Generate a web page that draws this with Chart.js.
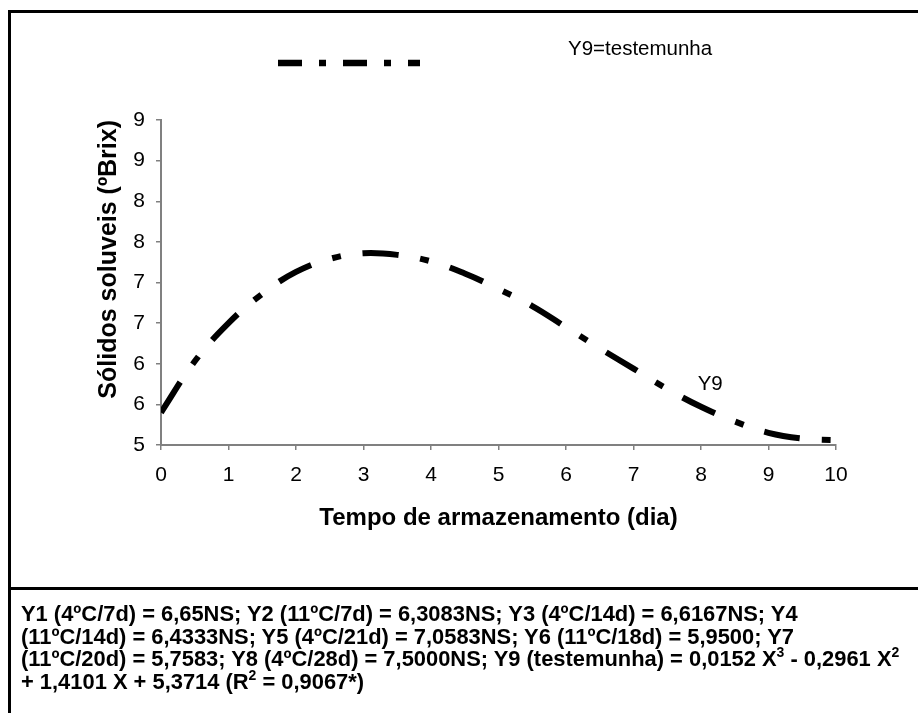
<!DOCTYPE html>
<html><head><meta charset="utf-8">
<script src="https://cdn.jsdelivr.net/npm/chart.js@4"></script>
<style>
html,body{margin:0;padding:0;background:#fff;}
#wrap{position:relative;width:918px;height:713px;overflow:hidden;background:#fff;}
#c{position:absolute;left:0;top:0;}
.bl{position:absolute;background:#000;}
#eq{position:absolute;left:21px;top:603px;font-family:"Liberation Sans",Arial,sans-serif;font-weight:bold;font-size:21.9px;line-height:22.5px;white-space:nowrap;color:#000;}
#eq sup{font-size:14px;position:relative;top:-9px;vertical-align:baseline;line-height:1;}
</style></head><body>
<div id="wrap">
<canvas id="c" width="918" height="713"></canvas>
<div class="bl" style="left:8px;top:10px;width:910px;height:3px"></div>
<div class="bl" style="left:8px;top:10px;width:3px;height:703px"></div>
<div class="bl" style="left:8px;top:587px;width:910px;height:3px"></div>
<div id="eq">Y1 (4ºC/7d) = 6,65NS; Y2 (11ºC/7d) = 6,3083NS; Y3 (4ºC/14d) = 6,6167NS; Y4<br>(11ºC/14d) = 6,4333NS; Y5 (4ºC/21d) = 7,0583NS; Y6 (11ºC/18d) = 5,9500; Y7<br>(11ºC/20d) = 5,7583; Y8 (4ºC/28d) = 7,5000NS; Y9 (testemunha) = 0,0152 X<sup>3</sup> - 0,2961 X<sup>2</sup><br>+ 1,4101 X + 5,3714 (R<sup>2</sup> = 0,9067*)</div>
</div>
<script>
// Data
const days = [0,0.5,1,1.5,2,2.5,3,3.5,4,4.5,5,5.5,6,6.5,7,7.5,8,8.5,9,9.5,10];
const y9 = [5.40,6.03,6.50,6.86,7.13,7.29,7.36,7.34,7.26,7.11,6.92,6.71,6.45,6.19,5.94,5.69,5.47,5.29,5.15,5.08,5.06];
const xTickLabels = ['0','1','2','3','4','5','6','7','8','9','10'];
const yTickLabels = ['5','6','6','7','7','8','8','9','9'];
const seriesName = 'Y9=testemunha';
const curveLabel = 'Y9';
const curveLabelPos = {x: 7.95, y: 5.68};

const FONT = '"Liberation Sans", Arial, sans-serif';

const overlay = {
  id: 'overlay',
  afterDraw(chart) {
    const ctx = chart.ctx;
    ctx.save();
    // legend sample
    ctx.strokeStyle = '#000';
    ctx.lineWidth = 6.5;
    ctx.lineCap = 'butt';
    ctx.setLineDash([24, 17, 7, 17]);
    ctx.beginPath();
    ctx.moveTo(278, 63);
    ctx.lineTo(420, 63);
    ctx.stroke();
    ctx.setLineDash([]);
    ctx.fillStyle = '#000';
    ctx.font = '20.5px ' + FONT;
    ctx.textBaseline = 'alphabetic';
    ctx.textAlign = 'left';
    ctx.fillText(chart.data.datasets[0].label, 568, 55);
    // curve label
    const xs = chart.scales.x, ys = chart.scales.y;
    ctx.fillText(curveLabel, xs.getPixelForValue(curveLabelPos.x), ys.getPixelForValue(curveLabelPos.y));
    ctx.restore();
  }
};

new Chart(document.getElementById('c'), {
  type: 'line',
  data: {
    datasets: [{
      label: seriesName,
      data: days.map((d, i) => ({x: d, y: y9[i]})),
      borderColor: '#000',
      backgroundColor: '#000',
      borderWidth: 6,
      borderDash: [36, 22, 9, 22],
      borderCapStyle: 'butt',
      pointRadius: 0,
      tension: 0.4,
      fill: false
    }]
  },
  options: {
    responsive: false,
    animation: false,
    devicePixelRatio: 1,
    layout: {padding: {left: 0, right: 82, top: 120, bottom: 168}},
    plugins: {legend: {display: false}, tooltip: {enabled: false}},
    scales: {
      x: {
        type: 'linear', min: 0, max: 10,
        afterFit(s) { s.height = 100; },
        ticks: {
          stepSize: 1, autoSkip: false, maxRotation: 0, padding: 13,
          color: '#000', font: {family: FONT, size: 21},
          callback: (v, i) => xTickLabels[i]
        },
        grid: {drawOnChartArea: false, drawTicks: true, tickLength: 5, color: '#808080', lineWidth: 1.5},
        border: {color: '#808080', width: 2},
        title: {display: true, text: 'Tempo de armazenamento (dia)', color: '#000',
          font: {family: FONT, size: 24, weight: 'bold'}, padding: {top: 0, bottom: 12}}
      },
      y: {
        type: 'linear', min: 5, max: 9,
        afterFit(s) { s.width = 161; },
        ticks: {
          stepSize: 0.5, padding: 11,
          color: '#000', font: {family: FONT, size: 21},
          callback: (v, i) => yTickLabels[i]
        },
        grid: {drawOnChartArea: false, drawTicks: true, tickLength: 5, color: '#808080', lineWidth: 1.5},
        border: {color: '#808080', width: 2},
        title: {display: true, text: 'Sólidos soluveis (ºBrix)', color: '#000', align: 'end',
          font: {family: FONT, size: 25, weight: 'bold'}, padding: {top: 94, bottom: 0}}
      }
    }
  },
  plugins: [overlay]
});
</script>
</body></html>
